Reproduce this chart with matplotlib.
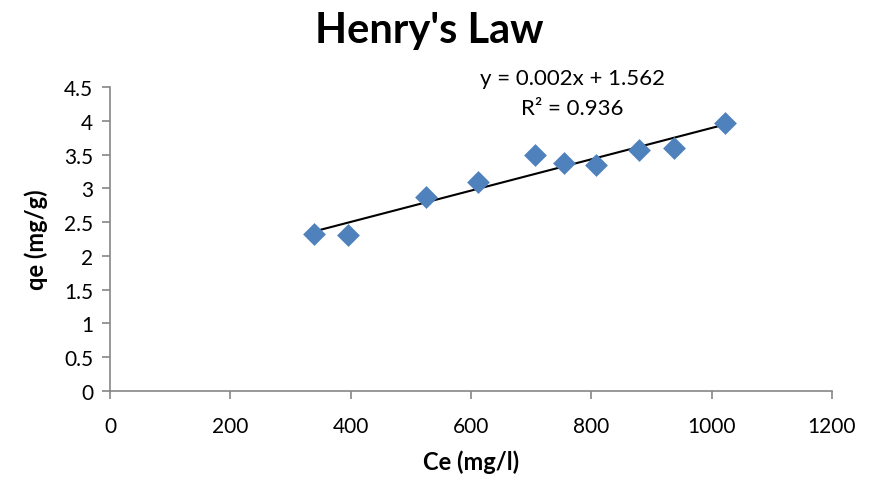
import numpy as np
import matplotlib
matplotlib.use("Agg")
import matplotlib.pyplot as plt

# Equilibrium concentration (mg/l) and adsorbed amount (mg/g)
ce = [339, 395, 526, 612, 706, 755, 808, 880, 938, 1022]
qe = [2.32, 2.31, 2.87, 3.10, 3.49, 3.38, 3.35, 3.57, 3.59, 3.96]

x_ticks = [0, 200, 400, 600, 800, 1000, 1200]
y_ticks = [0, 0.5, 1, 1.5, 2, 2.5, 3, 3.5, 4, 4.5]
y_tick_labels = ["0", "0.5", "1", "1.5", "2", "2.5", "3", "3.5", "4", "4.5"]

fit_label = "y = 0.002x + 1.562\nR² = 0.936"

plt.rcParams["font.family"] = ["Lato", "DejaVu Sans"]

fig = plt.figure(figsize=(8.69, 4.89), dpi=100)
ax = fig.add_axes([0.1266, 0.1984, 0.8308, 0.6216])

ax.scatter(ce, qe, marker="D", s=135, color="#4F81BD", zorder=3, linewidths=0)

# Linear trendline over the data range
slope, intercept = np.polyfit(ce, qe, 1)
xs = np.array([min(ce), max(ce)])
ax.plot(xs, slope * xs + intercept, color="black", lw=1.5, zorder=2)

ax.set_xlim(0, 1200)
ax.set_ylim(0, 4.5)
ax.set_xticks(x_ticks)
ax.set_yticks(y_ticks)
ax.set_yticklabels(y_tick_labels)

for side in ("top", "right"):
    ax.spines[side].set_visible(False)
for side in ("left", "bottom"):
    ax.spines[side].set_color("#868686")
    ax.spines[side].set_linewidth(1.2)
ax.tick_params(axis="both", direction="out", length=6, width=1.2,
               color="#868686", labelsize=15, labelcolor="black")
ax.tick_params(axis="x", pad=12)
ax.tick_params(axis="y", pad=6)

ax.set_xlabel("Ce (mg/l)", fontsize=17, fontweight="bold", labelpad=10)
ax.set_ylabel("qe (mg/g)", fontsize=17, fontweight="bold", labelpad=12)

fig.text(0.494, 0.937, "Henry's Law", ha="center", va="center",
         fontsize=30, fontweight="bold")

ax.text(768, 4.41, fit_label, ha="center", va="center", fontsize=16,
        linespacing=1.6, transform=ax.transData)

fig.savefig("out.png", dpi=100)
